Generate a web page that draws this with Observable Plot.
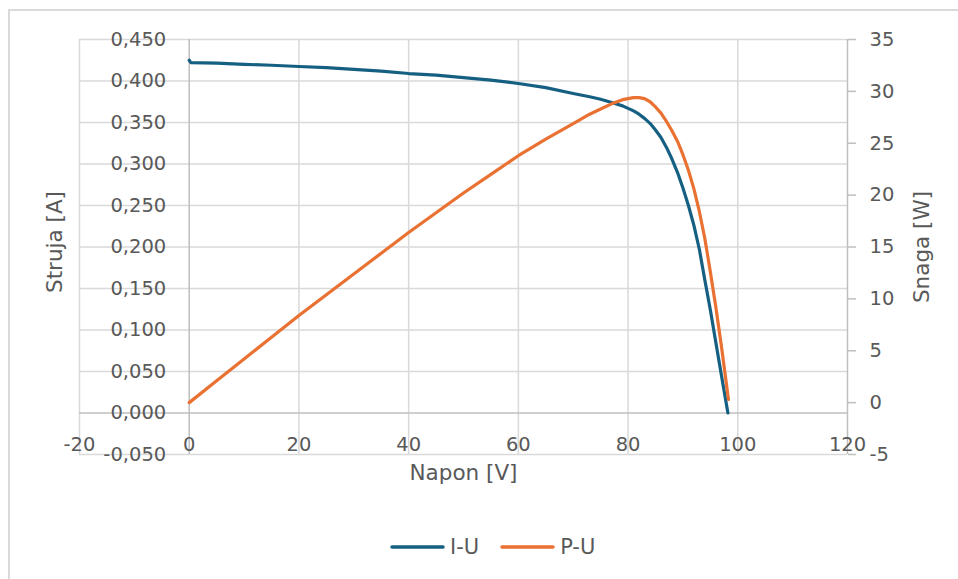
<!DOCTYPE html>
<html>
<head>
<meta charset="utf-8">
<script src="https://cdn.jsdelivr.net/npm/d3@7"></script>
<script src="https://cdn.jsdelivr.net/npm/@observablehq/plot@0.6"></script>
<style>
  html, body { margin: 0; padding: 0; background: #fff; overflow: hidden; }
  #wrap { position: relative; width: 958px; height: 579px; font-family: "DejaVu Sans", sans-serif; color: #595959; }
  #frame { position: absolute; left: 8px; top: 9px; width: 1000px; height: 700px; border-left: 2px solid #d9d9d9; border-top: 2px solid #d9d9d9; pointer-events: none; }
  #chart { position: absolute; left: 0; top: 0; }
  #legend { position: absolute; top: 537px; left: 390px; height: 20px; display: flex; align-items: center; font-size: 21px; color: #595959; }
  #legend .item { display: flex; align-items: center; }
  #legend svg { margin-right: 5px; }
</style>
</head>
<body>
<div id="wrap">
  <div id="chart"></div>
  <div id="legend"></div>
  <div id="frame"></div>
</div>
<script>
// ---- data ----
const voltageIU = [0, 0.3, 5, 10, 15, 20, 25, 30, 35, 40, 45, 50, 55, 60, 65, 70, 73, 75, 77, 79, 80, 81, 82, 83, 84, 85, 86, 87, 88, 89, 90, 91, 92, 93, 94, 95, 96, 97, 98.2];
const currentIU = [0.425, 0.4222, 0.4215, 0.420, 0.419, 0.4175, 0.416, 0.414, 0.412, 0.409, 0.407, 0.404, 0.401, 0.397, 0.392, 0.385, 0.381, 0.378, 0.374, 0.370, 0.367, 0.364, 0.360, 0.355, 0.349, 0.341, 0.332, 0.320, 0.306, 0.290, 0.271, 0.250, 0.226, 0.197, 0.160, 0.124, 0.085, 0.046, 0.000];
const voltagePU = [0, 5, 10, 15, 20, 25, 30, 35, 40, 45, 50, 55, 60, 65, 70, 73, 75, 77, 79, 80, 81, 82, 83, 84, 85, 86, 87, 88, 89, 90, 91, 92, 93, 94, 95, 96, 97, 98.3];
const powerPU = [0.0, 2.1, 4.2, 6.3, 8.4, 10.4, 12.4, 14.4, 16.4, 18.3, 20.2, 22.0, 23.8, 25.4, 26.9, 27.8, 28.3, 28.8, 29.2, 29.3, 29.4, 29.4, 29.3, 29.0, 28.5, 27.9, 27.1, 26.2, 25.2, 23.9, 22.4, 20.6, 18.4, 15.8, 12.6, 9.2, 5.5, 0.3];

const seriesNames = ["I-U", "P-U"];
const seriesColors = ["#156082", "#E97132"];

const xTicks = [-20, 0, 20, 40, 60, 80, 100, 120];
const currentTicks = [-0.05, 0, 0.05, 0.10, 0.15, 0.20, 0.25, 0.30, 0.35, 0.40, 0.45];
const powerTicks = [-5, 0, 5, 10, 15, 20, 25, 30, 35];

const xTitle = "Napon [V]";
const yLeftTitle = "Struja [A]";
const yRightTitle = "Snaga [W]";

// secondary axis (-5..35) mapped onto primary (-0.05..0.45)
const pMin = -5, pMax = 35, iMin = -0.05, iMax = 0.45;
const powerToY = p => iMin + (p - pMin) / (pMax - pMin) * (iMax - iMin);
const yToPower = y => Math.round(pMin + (y - iMin) / (iMax - iMin) * (pMax - pMin));

const iuData = voltageIU.map((u, k) => ({u, v: currentIU[k]}));
const puData = voltagePU.map((u, k) => ({u, v: powerToY(powerPU[k])}));

const fmtI = d => d.toFixed(3).replace(".", ",");
const gridColor = "#d9d9d9";
const axisColor = "#bfbfbf";
const textColor = "#595959";
const tickFont = 19.5;
const titleFont = 21.5;

const chart = Plot.plot({
  width: 958,
  height: 510,
  marginLeft: 79,
  marginRight: 111,
  marginTop: 39,
  marginBottom: 56,
  style: {fontFamily: "DejaVu Sans, sans-serif", color: textColor, background: "transparent", overflow: "visible"},
  x: {domain: [-20, 120], axis: null},
  y: {domain: [iMin, iMax]},
  marks: [
    Plot.ruleY(currentTicks.filter(d => d !== 0), {stroke: gridColor, strokeWidth: 1.5}),
    Plot.ruleX(xTicks.filter(d => d !== 0 && d !== 120), {stroke: gridColor, strokeWidth: 1.5}),
    Plot.ruleY([0], {stroke: axisColor, strokeWidth: 1.5}),
    Plot.ruleX([0], {stroke: axisColor, strokeWidth: 1.5}),
    Plot.ruleX([120], {stroke: axisColor, strokeWidth: 1.5}),
    Plot.axisY(powerTicks.map(powerToY), {
      anchor: "right", tickSize: 8, tickPadding: 14, stroke: axisColor, strokeWidth: 1.5,
      tickFormat: d => String(yToPower(d)), fontSize: tickFont, fill: textColor, label: null
    }),
    // left axis labels sit beside the y-axis at x = 0
    Plot.text(currentTicks, {x: 0, y: d => d, text: fmtI, textAnchor: "end", dx: -23, fontSize: tickFont, fill: textColor}),
    // x axis labels
    Plot.text(xTicks, {x: d => d, y: 0, text: d => String(d), dy: 32, fontSize: tickFont, fill: textColor}),
    // axis titles
    Plot.text([yLeftTitle], {frameAnchor: "left", textAnchor: "middle", dx: -24, dy: -5, rotate: -90, fontSize: titleFont, fill: textColor}),
    Plot.text([yRightTitle], {frameAnchor: "right", textAnchor: "middle", dx: 75, rotate: -90, fontSize: titleFont, fill: textColor}),
    Plot.text([xTitle], {frameAnchor: "bottom", dy: 25, fontSize: titleFont, fill: textColor}),
    // series
    Plot.line(iuData, {x: "u", y: "v", stroke: seriesColors[0], strokeWidth: 3.2, strokeLinecap: "round", strokeLinejoin: "round"}),
    Plot.line(puData, {x: "u", y: "v", stroke: seriesColors[1], strokeWidth: 3.2, strokeLinecap: "round", strokeLinejoin: "round"})
  ]
});
document.getElementById("chart").appendChild(chart);

// legend
const legend = document.getElementById("legend");
seriesNames.forEach((name, k) => {
  const item = document.createElement("div");
  item.className = "item";
  if (k > 0) item.style.marginLeft = "21px";
  item.innerHTML = `<svg width="55" height="8"><line x1="2" y1="4" x2="53" y2="4" stroke="${seriesColors[k]}" stroke-width="3.5" stroke-linecap="round"/></svg><span>${name}</span>`;
  legend.appendChild(item);
});
</script>
</body>
</html>
